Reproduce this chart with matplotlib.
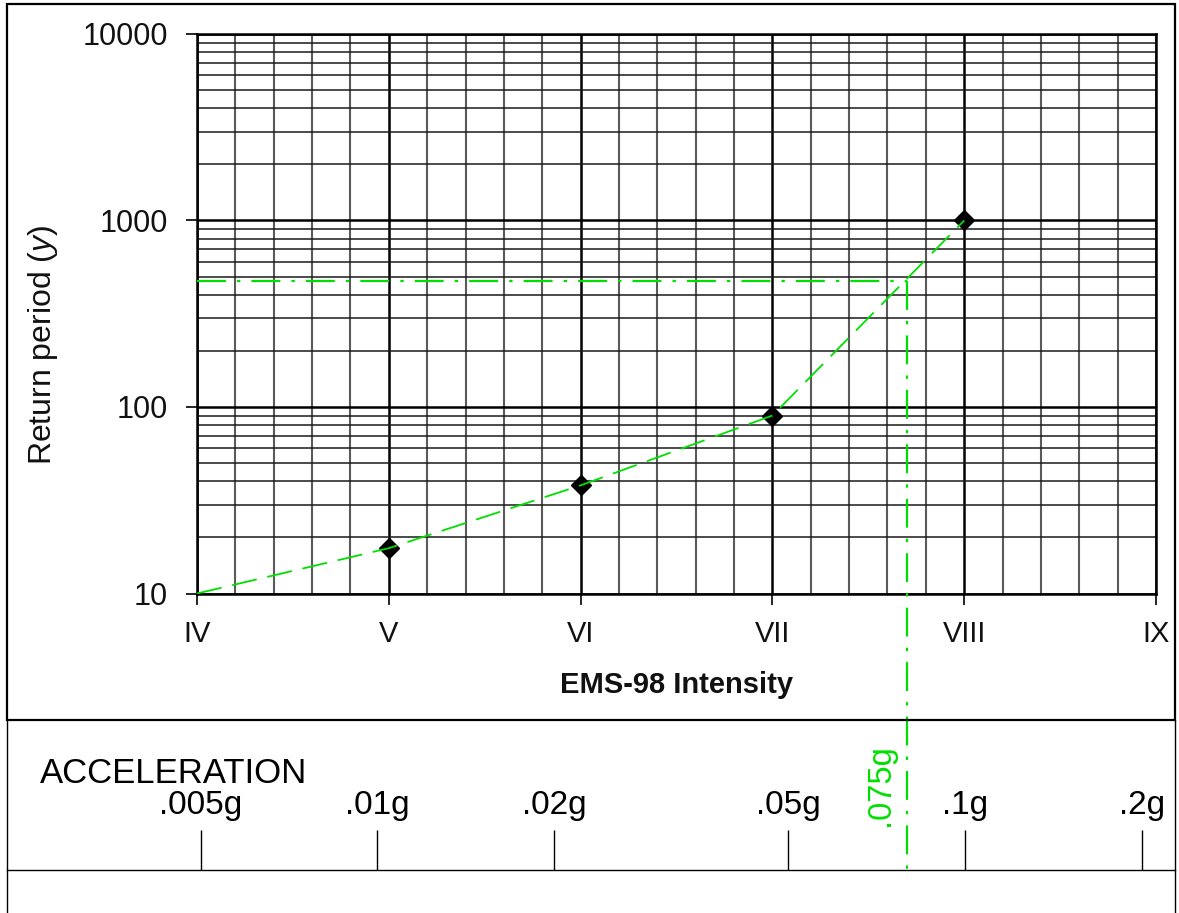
import numpy as np
import matplotlib.pyplot as plt
import matplotlib.transforms as mtransforms
from matplotlib.patches import Rectangle
from matplotlib.lines import Line2D
from matplotlib.ticker import MultipleLocator, LogLocator, NullFormatter

plt.rcParams['font.family'] = ['Liberation Sans', 'DejaVu Sans']
plt.rcParams['mathtext.fontset'] = 'custom'
plt.rcParams['mathtext.rm'] = 'Liberation Sans'
plt.rcParams['mathtext.it'] = 'Liberation Sans:italic'

# data
intensity = [5, 6, 7, 8]
return_period = [17.5, 38, 90, 1000]
curve_x = [4, 5, 6, 7, 8]
curve_y = [10, 17.5, 38, 90, 1000]
roman = ['IV', 'V', 'VI', 'VII', 'VIII', 'IX']
roman_pos = [4, 5, 6, 7, 8, 9]
acc_ticks = [0.005, 0.01, 0.02, 0.05, 0.1, 0.2]
acc_labels = ['.005g', '.01g', '.02g', '.05g', '.1g', '.2g']
read_intensity = 7.7
read_period = 475
read_label = '.075g'

GREEN = '#00e000'
W, H = 1179, 913

fig = plt.figure(figsize=(W / 100, H / 100), dpi=100)

# outer boxes (pixel layout -> figure fraction)
fig.add_artist(Rectangle((7 / W, 1 - 720 / H), (1175 - 7) / W, (720 - 4) / H,
                         transform=fig.transFigure, fill=False, ec='black', lw=1.6))
for xs, ys in [([7, 7], [720, 913]), ([1175, 1175], [720, 913]), ([7, 1175], [870, 870])]:
    fig.add_artist(Line2D([x / W for x in xs], [1 - y / H for y in ys],
                          transform=fig.transFigure, color='black', lw=1.0))

# main chart
ax = fig.add_axes([197 / W, 1 - 593.5 / H, (1156 - 197) / W, (593.5 - 34) / H])
ax.set_yscale('log')
ax.set_xlim(4, 9)
ax.set_ylim(10, 10000)
ax.set_xticks(roman_pos, roman)
ax.xaxis.set_minor_locator(MultipleLocator(0.2))
ax.yaxis.set_minor_locator(LogLocator(base=10, subs=np.arange(2, 10)))
ax.yaxis.set_minor_formatter(NullFormatter())
ax.set_yticks([10, 100, 1000, 10000], ['10', '100', '1000', '10000'])

ax.xaxis.grid(True, which='major', color='black', lw=1.8)
ax.xaxis.grid(True, which='minor', color='#5a5a5a', lw=1.5)
ax.yaxis.grid(True, which='major', color='black', lw=1.8)
ax.yaxis.grid(True, which='minor', color='#1a1a1a', lw=1.1)
ax.tick_params(which='minor', length=0)
ax.tick_params(axis='y', which='major', length=8, width=1.2, pad=13, labelsize=22,
               labelcolor='#111111')
ax.tick_params(axis='x', which='major', length=8, width=1.2, pad=11, labelsize=21,
               labelcolor='#111111')
for s in ax.spines.values():
    s.set_linewidth(1.8)

ax.plot(intensity, return_period, 'D', color='black', ms=10.5, zorder=3)
ax.plot(curve_x, curve_y, color=GREEN, lw=1.3, ls=(0, (14, 6)), zorder=4)

# reading lines: return period -> intensity -> acceleration
ax.plot([4, read_intensity], [read_period, read_period], color=GREEN, lw=1.6,
        ls=(0, (13, 5, 1.5, 5)), zorder=4)
y_top = ax.transAxes.inverted().transform(ax.transData.transform((read_intensity, read_period)))[1]
y_bot = -(870 - 593.5) / (593.5 - 34)
ax.plot([read_intensity, read_intensity], [y_top, y_bot], color=GREEN, lw=1.6,
        ls=(0, (13, 5, 1.5, 5)), transform=ax.get_xaxis_transform(), clip_on=False, zorder=4)

ax.set_xlabel('EMS-98 Intensity', fontsize=21, fontweight='bold', color='#111111')
ax.xaxis.set_label_coords(0.5, -0.1385)
fig.text(43 / W, 1 - 345 / H, 'Return period ($\\mathit{y}$)', rotation=90,
         ha='center', va='center', fontsize=23, color='#111111')

# acceleration scale
acc = fig.add_axes([197 / W, 1 - 870 / H, (1156 - 197) / W, 40 / H])
acc.set_xscale('log')
acc.set_xlim(0.00493, 0.2113)
acc.set_ylim(0, 1)
acc.axis('off')
acc.vlines(acc_ticks, 0, 1, color='black', lw=1.0)
lab_tr = mtransforms.offset_copy(acc.get_xaxis_transform(), fig=fig, y=16, units='dots')
for t, lab in zip(acc_ticks, acc_labels):
    acc.text(t, 1, lab, ha='center', va='baseline', fontsize=24, transform=lab_tr)
fig.text(40 / W, 1 - 783 / H, 'ACCELERATION', ha='left', va='baseline', fontsize=25)

rd_tr = mtransforms.offset_copy(
    mtransforms.blended_transform_factory(ax.transData, fig.transFigure),
    fig=fig, x=-11, units='dots')
ax.text(read_intensity, 1 - 826 / H, read_label, rotation=90, ha='right', va='bottom',
        color=GREEN, fontsize=23.5, transform=rd_tr, clip_on=False)

fig.savefig('out.png', dpi=100)
